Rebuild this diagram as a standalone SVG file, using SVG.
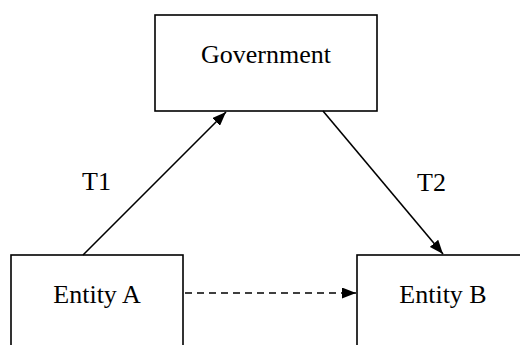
<svg xmlns="http://www.w3.org/2000/svg" width="520" height="345" viewBox="0 0 520 345">
<style>
.box{fill:#fff;stroke:#000;stroke-width:1.6}
.lbl{font-family:'Liberation Serif','DejaVu Serif','Times New Roman',Times,serif;font-size:26px;fill:#000}
.edge{stroke:#000;stroke-width:1.6;fill:none}
</style>
<defs>
<marker id="ah" viewBox="0 0 14 11" refX="14" refY="5.5" markerWidth="14" markerHeight="11" markerUnits="userSpaceOnUse" orient="auto">
<path d="M0,0 L14,5.5 L0,11 Z" fill="#000"/>
</marker>
</defs>
<rect width="520" height="345" fill="#fff"/>
<g id="government">
<rect class="box" x="155" y="15" width="222" height="96"/>
<text class="lbl" x="266" y="63" text-anchor="middle">Government</text>
</g>
<g id="entityA">
<rect class="box" x="11" y="255" width="172" height="100"/>
<text class="lbl" x="97" y="303" text-anchor="middle">Entity A</text>
</g>
<g id="entityB">
<rect class="box" x="357" y="255" width="175" height="100"/>
<text class="lbl" x="443" y="303" text-anchor="middle">Entity B</text>
</g>
<g id="connectors">
<line class="edge" x1="83" y1="255" x2="226" y2="112" marker-end="url(#ah)"/>
<line class="edge" x1="323" y1="111" x2="443" y2="254" marker-end="url(#ah)"/>
<line class="edge" x1="185" y1="293" x2="356" y2="293" stroke-dasharray="7,5" stroke-width="2" marker-end="url(#ah)"/>
<text class="lbl" x="82" y="190">T1</text>
<text class="lbl" x="417" y="191">T2</text>
</g>
</svg>
